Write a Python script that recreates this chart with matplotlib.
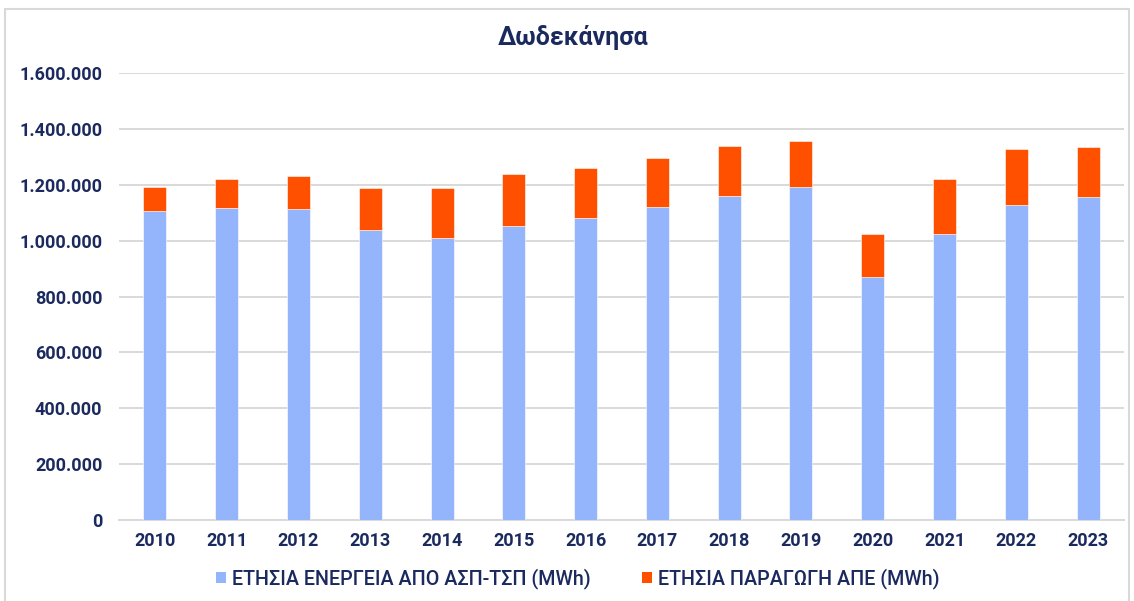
import matplotlib
matplotlib.use("Agg")
import matplotlib.pyplot as plt
from matplotlib.patches import Rectangle, Patch
from matplotlib.ticker import FuncFormatter, MultipleLocator

years = ["2010", "2011", "2012", "2013", "2014", "2015", "2016",
         "2017", "2018", "2019", "2020", "2021", "2022", "2023"]
asp_tsp = [1105000, 1118000, 1115000, 1037000, 1011000, 1053000, 1081000,
           1122000, 1162000, 1194000, 869000, 1024000, 1128000, 1158000]
ape = [87000, 103000, 116000, 152000, 178000, 186000, 181000,
       176000, 179000, 163000, 157000, 196000, 202000, 178000]

title = "Δωδεκάνησα"
label_asp = "ΕΤΗΣΙΑ ΕΝΕΡΓΕΙΑ ΑΠΟ ΑΣΠ-ΤΣΠ (MWh)"
label_ape = "ΕΤΗΣΙΑ ΠΑΡΑΓΩΓΗ ΑΠΕ (MWh)"

blue = "#94b5fb"
orange = "#ff5000"
navy = "#1b2a5e"
grid = "#d9d9d9"

plt.rcParams['font.family'] = ['Roboto', 'DejaVu Sans']

W, H = 1134, 601
fig = plt.figure(figsize=(W / 100, H / 100), dpi=100)
fig.patch.set_facecolor("white")

# light border
fig.patches.append(Rectangle((5 / W, -0.05), (W - 10) / W, 1.05 - 9 / H,
                             transform=fig.transFigure, fill=False,
                             edgecolor="#d9d9d9", linewidth=1.5))

ax = fig.add_axes([119 / W, 1 - 520 / H, (1124 - 119) / W, (520 - 73.3) / H])
x = list(range(len(years)))
ax.bar(x, asp_tsp, width=0.32, color=blue, edgecolor="white", linewidth=0.4, zorder=3)
ax.bar(x, ape, bottom=asp_tsp, width=0.32, color=orange, edgecolor="white", linewidth=0.4, zorder=3)

ax.set_xlim(-0.5, len(years) - 0.5)
ax.set_ylim(0, 1600000)
ax.yaxis.set_major_locator(MultipleLocator(200000))
ax.yaxis.set_major_formatter(FuncFormatter(lambda v, p: f"{int(v):,}".replace(",", ".")))
ax.set_xticks(x)
ax.set_xticklabels(years)
ax.grid(axis="y", color=grid, linewidth=1.4, zorder=0)
ax.set_axisbelow(True)
for s in ["top", "right", "left"]:
    ax.spines[s].set_visible(False)
ax.spines["bottom"].set_color(grid)
ax.spines["bottom"].set_linewidth(1.4)
ax.spines["bottom"].set_zorder(1)
ax.tick_params(axis="both", length=0, colors=navy, labelsize=13)
ax.tick_params(axis="y", pad=12)
ax.tick_params(axis="x", pad=9)
for lab in ax.get_xticklabels() + ax.get_yticklabels():
    lab.set_fontweight("bold")
    lab.set_color(navy)

fig.text(573 / W, 1 - 38 / H, title, ha="center", va="center",
         fontsize=18, fontweight="bold", color=navy)

handles = [Patch(facecolor=blue, edgecolor="none"), Patch(facecolor=orange, edgecolor="none")]
leg = fig.legend(handles, [label_asp, label_ape], loc="center",
                 bbox_to_anchor=(578 / W, 1 - 579 / H), ncol=2, frameon=False,
                 prop={"size": 14.2, "weight": "medium"},
                 handlelength=0.5, handleheight=0.5,
                 handletextpad=0.3, columnspacing=2.6)
for t in leg.get_texts():
    t.set_color(navy)

fig.savefig("out.png", dpi=100)
